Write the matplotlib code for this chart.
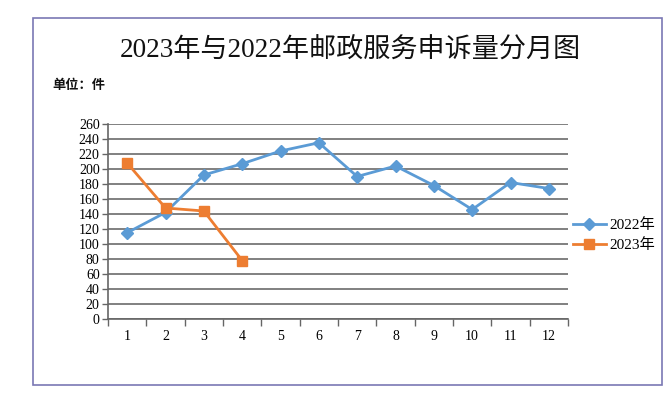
import matplotlib.pyplot as plt
from matplotlib.patches import Rectangle

plt.rcParams['font.family'] = ['Liberation Serif', 'Noto Sans CJK SC', 'DejaVu Sans']

months = list(range(1, 13))
vals_2022 = [115, 142, 192, 207, 224, 235, 190, 204, 178, 146, 182, 174]
months_2023 = [1, 2, 3, 4]
vals_2023 = [208, 148, 144, 78]
y_ticks = list(range(0, 261, 20))

fig = plt.figure(figsize=(6.72, 3.98), dpi=100)
W, H = 672, 398

# outer frame
fig.patches.append(Rectangle((33 / W, 1 - 385 / H), (662 - 33) / W, (385 - 18) / H,
                             transform=fig.transFigure, fill=False,
                             edgecolor='#7a78b4', linewidth=1.2))

ax = fig.add_axes([108 / W, 1 - 319 / H, (568 - 108) / W, (319 - 124) / H])

for y in y_ticks:
    ax.axhline(y, color='#808080', linewidth=1.4, zorder=0)

ax.plot(months, vals_2022, color='#5b9bd5', linewidth=2, marker='D', markersize=6,
        label='2022年', zorder=3)
ax.plot(months_2023, vals_2023, color='#ed7d31', linewidth=2, marker='s', markersize=7,
        label='2023年', zorder=3)

ax.set_xlim(0.5, 12.5)
ax.set_ylim(0, 260)
ax.set_yticks(y_ticks)
ax.set_yticklabels([str(v) for v in y_ticks], fontsize=10)
ax.set_xticks(months)
ax.set_xticklabels([str(m) for m in months], fontsize=10)
ax.set_xticks([m + 0.5 for m in range(0, 13)], minor=True)
ax.tick_params(axis='x', which='major', length=0, pad=8)
ax.tick_params(axis='x', which='minor', length=5, color='#666666', width=1)
ax.tick_params(axis='y', length=4, color='#666666', width=1, pad=2)

for side in ['top', 'right']:
    ax.spines[side].set_visible(False)
ax.spines['left'].set_color('#666666')
ax.spines['bottom'].set_color('#666666')
ax.spines['left'].set_linewidth(1.2)
ax.spines['bottom'].set_linewidth(1.2)

ax.legend(loc='center left', bbox_to_anchor=(0.98, 0.43), frameon=False,
          fontsize=11, handlelength=2.2, handletextpad=0.2, labelspacing=0.4)

fig.text(350 / W, 1 - 51 / H, '2023年与2022年邮政服务申诉量分月图', ha='center', va='center',
         fontsize=19.5, color='#111111')
fig.text(52 / W, 1 - 86 / H, '单位：件', ha='left', va='center', fontsize=9.5,
         fontweight='bold', color='#111111')

fig.savefig('out.png', dpi=100)
